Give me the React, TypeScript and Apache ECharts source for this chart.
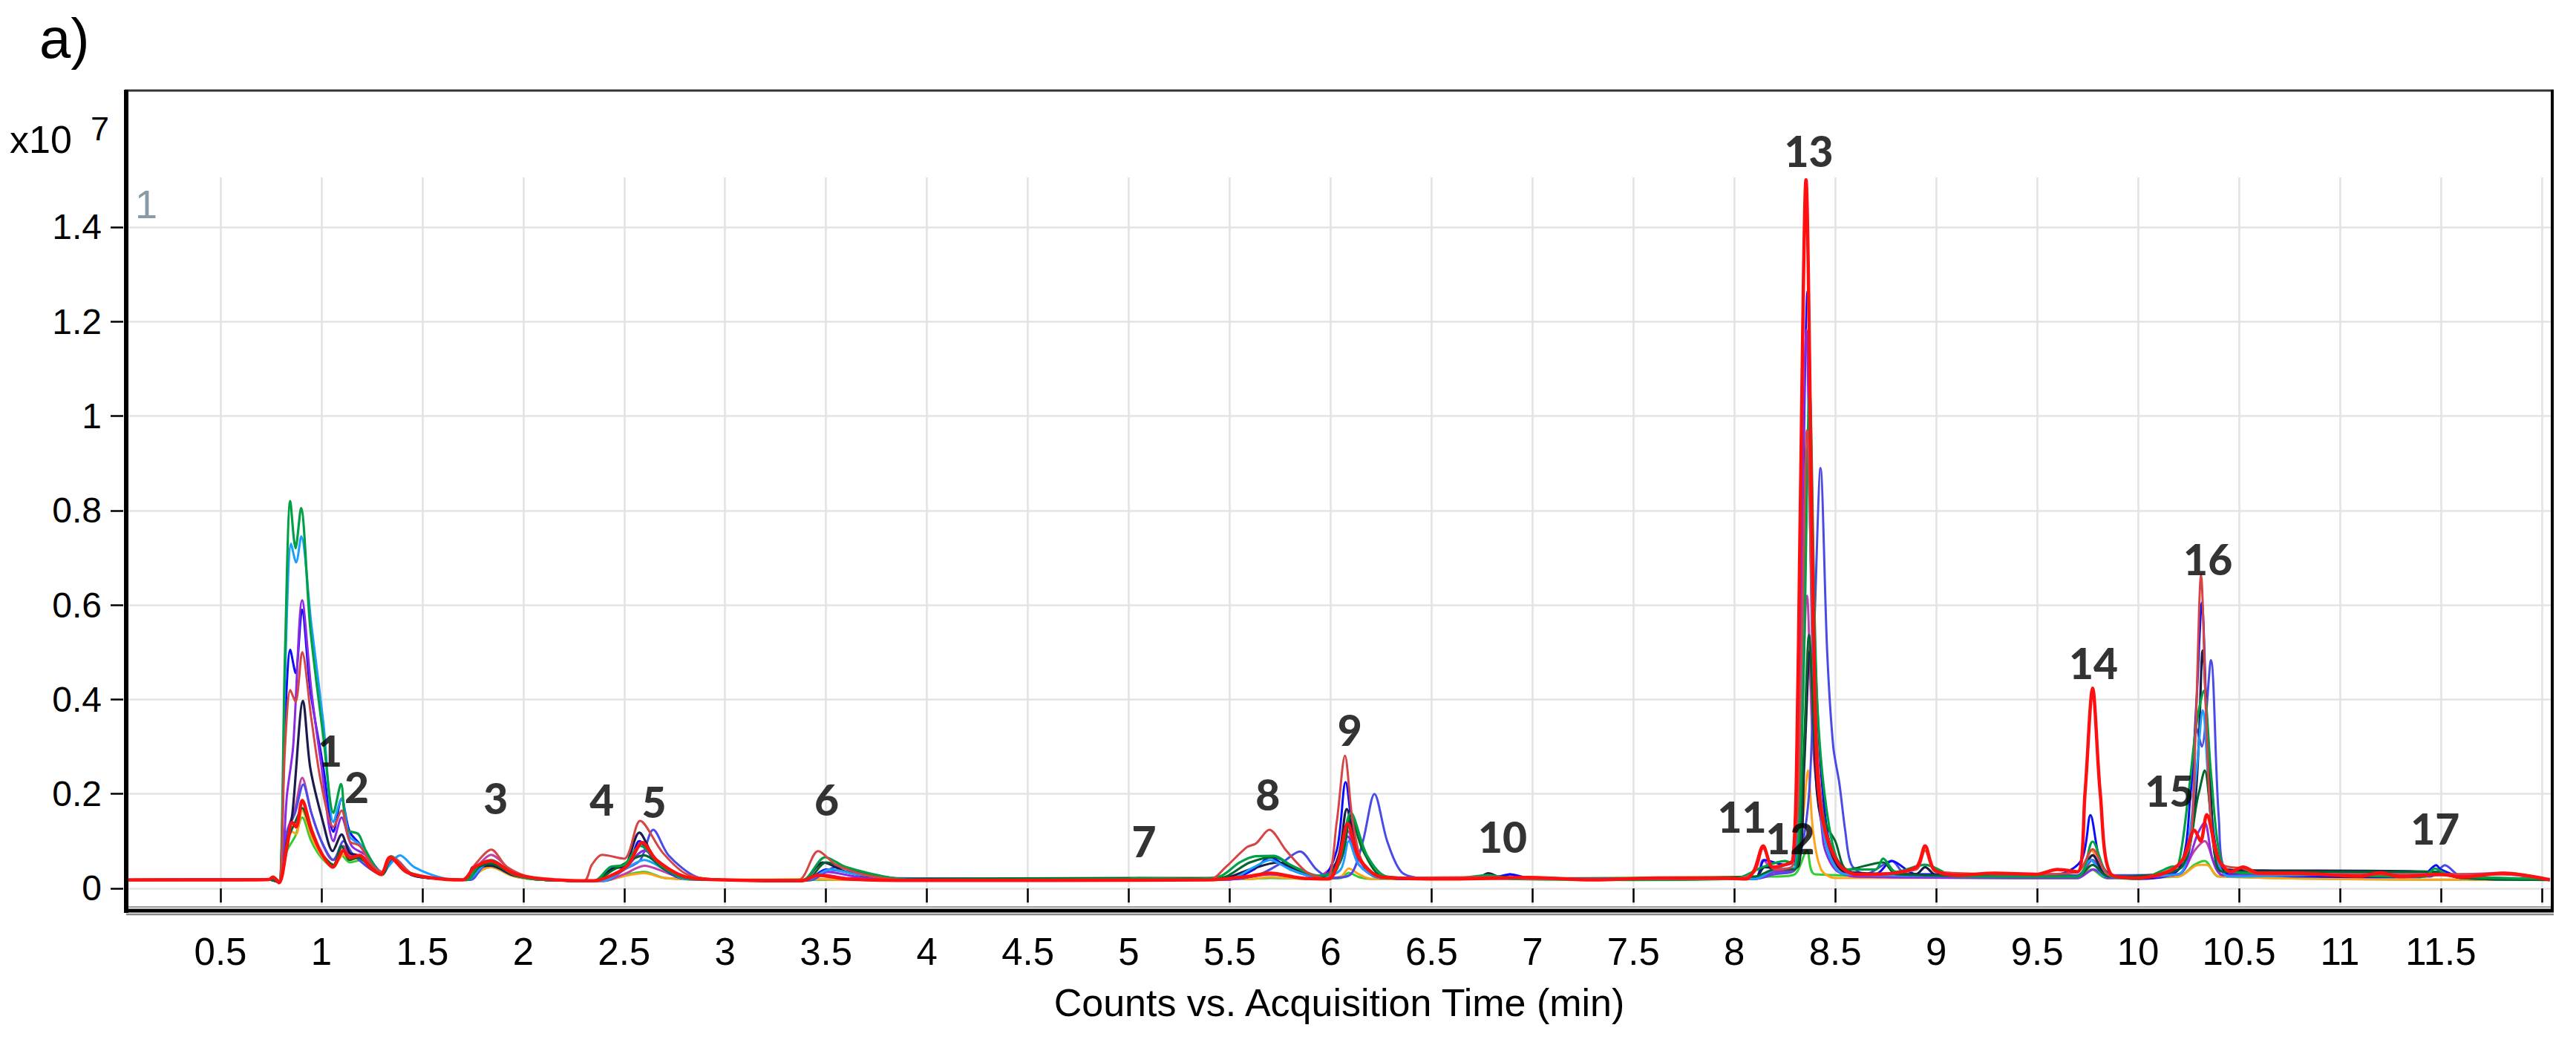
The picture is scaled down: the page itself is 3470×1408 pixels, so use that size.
import React, { useEffect, useRef } from 'react';
import * as echarts from 'echarts';

// ---------- axis values ----------
const X_TICKS = [0.5, 1, 1.5, 2, 2.5, 3, 3.5, 4, 4.5, 5, 5.5, 6, 6.5, 7, 7.5, 8, 8.5, 9, 9.5, 10, 10.5, 11, 11.5, 12];
const X_LABELS = [0.5, 1, 1.5, 2, 2.5, 3, 3.5, 4, 4.5, 5, 5.5, 6, 6.5, 7, 7.5, 8, 8.5, 9, 9.5, 10, 10.5, 11, 11.5];
const Y_TICKS = [0, 0.2, 0.4, 0.6, 0.8, 1, 1.2, 1.4];
const X_RANGE = [0.033, 12.052];
const Y_RANGE_FRAME = [-0.044, 1.689];
const Y_RANGE_PLOT = [-0.0346, 1.5053];

// ---------- peak labels ----------
const PEAK_NAMES = ['1', '2', '3', '4', '5', '6', '7', '8', '9', '10', '11', '12', '13', '14', '15', '16', '17'];
const PEAK_T = [1.043, 1.175, 1.864, 2.39, 2.648, 3.503, 5.075, 5.689, 6.095, 6.852, 8.038, 8.277, 8.369, 9.779, 10.155, 10.346, 11.472];
const PEAK_Y = [0.293, 0.215, 0.192, 0.189, 0.184, 0.189, 0.1, 0.2, 0.336, 0.11, 0.152, 0.107, 1.5625, 0.478, 0.208, 0.697, 0.1266];

// ---------- traces: [time (min), counts x10^7] ----------
const LIME = [[0.03,0.018],[0.74,0.019],[0.79,0.013],[0.83,0.08],[0.87,0.11],[0.905,0.15],[0.95,0.1],[1.0,0.065],[1.06,0.045],[1.1,0.07],[1.14,0.055],[1.2,0.06],[1.3,0.028],[1.35,0.06],[1.45,0.028],[1.6,0.02],[1.72,0.018],[1.8,0.04],[1.84,0.045],[1.95,0.026],[2.1,0.018],[2.4,0.016],[2.5,0.028],[2.6,0.035],[2.7,0.022],[3.0,0.018],[5.6,0.02],[5.7,0.022],[5.9,0.02],[6.05,0.022],[6.09,0.033],[6.14,0.024],[6.2,0.02],[8.2,0.025],[8.3,0.03],[8.36,0.08],[8.4,0.03],[9.7,0.022],[9.77,0.04],[9.84,0.022],[10.2,0.025],[10.28,0.05],[10.33,0.058],[10.4,0.025],[12.04,0.018]];

const ORANGE = [[0.03,0.018],[0.74,0.019],[0.79,0.013],[0.83,0.09],[0.855,0.12],[0.875,0.115],[0.905,0.165],[0.95,0.11],[1.0,0.07],[1.056,0.045],[1.11,0.072],[1.14,0.06],[1.19,0.065],[1.295,0.028],[1.34,0.062],[1.45,0.028],[1.6,0.02],[1.72,0.018],[1.8,0.04],[1.84,0.045],[1.95,0.026],[2.1,0.018],[2.4,0.016],[2.5,0.026],[2.6,0.032],[2.7,0.022],[3.0,0.018],[3.45,0.02],[3.6,0.018],[5.6,0.02],[5.7,0.024],[5.9,0.02],[6.05,0.025],[6.09,0.042],[6.14,0.03],[6.2,0.02],[8.1,0.02],[8.2,0.03],[8.3,0.04],[8.34,0.15],[8.365,0.25],[8.39,0.12],[8.43,0.04],[8.5,0.022],[9.7,0.025],[9.77,0.08],[9.84,0.025],[10.2,0.025],[10.3,0.05],[10.34,0.05],[10.4,0.025],[12.04,0.018]];

const MAGENTA = [[0.03,0.018],[0.74,0.019],[0.79,0.013],[0.83,0.12],[0.87,0.17],[0.905,0.234],[0.95,0.16],[1.0,0.1],[1.056,0.06],[1.11,0.09],[1.14,0.07],[1.19,0.07],[1.295,0.03],[1.34,0.064],[1.45,0.03],[1.6,0.02],[1.72,0.018],[1.78,0.05],[1.84,0.071],[1.95,0.035],[2.1,0.018],[2.4,0.016],[2.5,0.03],[2.6,0.048],[2.7,0.035],[2.8,0.02],[3.0,0.018],[3.4,0.017],[3.48,0.03],[3.6,0.022],[5.5,0.019],[5.7,0.03],[5.9,0.02],[6.04,0.06],[6.085,0.121],[6.14,0.06],[6.25,0.022],[8.1,0.02],[8.143,0.06],[8.2,0.035],[8.3,0.04],[8.33,0.3],[8.36,0.62],[8.39,0.3],[8.44,0.12],[8.5,0.05],[8.6,0.025],[9.7,0.022],[9.775,0.06],[9.85,0.022],[10.2,0.03],[10.28,0.08],[10.33,0.1],[10.38,0.05],[10.42,0.028],[11.2,0.028],[11.5,0.028],[11.81,0.033],[12.04,0.018]];

const ROYALBLUE = [[0.03,0.018],[0.74,0.019],[0.79,0.013],[0.83,0.12],[0.87,0.16],[0.91,0.22],[0.95,0.16],[1.0,0.1],[1.06,0.06],[1.11,0.1],[1.16,0.07],[1.3,0.03],[1.36,0.064],[1.45,0.03],[1.6,0.02],[1.74,0.018],[1.8,0.045],[1.86,0.05],[1.97,0.028],[2.1,0.018],[2.4,0.016],[2.5,0.04],[2.58,0.06],[2.644,0.124],[2.72,0.07],[2.855,0.025],[3.0,0.018],[3.42,0.017],[3.55,0.045],[3.7,0.03],[3.95,0.018],[5.5,0.019],[5.65,0.03],[5.76,0.055],[5.848,0.078],[5.93,0.04],[6.0,0.022],[6.1,0.03],[6.16,0.1],[6.217,0.2],[6.28,0.1],[6.35,0.035],[6.45,0.022],[6.85,0.024],[6.888,0.03],[6.95,0.022],[8.1,0.02],[8.2,0.03],[8.3,0.04],[8.37,0.2],[8.4,0.6],[8.427,0.89],[8.46,0.5],[8.49,0.3],[8.52,0.223],[8.55,0.12],[8.58,0.05],[8.65,0.03],[8.78,0.058],[8.85,0.03],[9.7,0.028],[9.77,0.06],[9.84,0.028],[10.2,0.03],[10.26,0.1],[10.29,0.34],[10.316,0.3],[10.361,0.483],[10.4,0.15],[10.44,0.04],[11.45,0.025],[11.52,0.049],[11.6,0.025],[12.04,0.018]];

const BLUE = [[0.03,0.018],[0.74,0.019],[0.76,0.023],[0.79,0.013],[0.82,0.35],[0.846,0.505],[0.872,0.456],[0.904,0.59],[0.945,0.42],[1.01,0.255],[1.06,0.12],[1.1,0.19],[1.14,0.12],[1.2,0.09],[1.3,0.035],[1.35,0.066],[1.44,0.03],[1.6,0.02],[1.72,0.018],[1.79,0.05],[1.84,0.055],[1.95,0.03],[2.1,0.018],[2.35,0.016],[2.45,0.045],[2.52,0.05],[2.575,0.1],[2.65,0.06],[2.78,0.022],[3.0,0.018],[3.4,0.017],[3.5,0.04],[3.6,0.035],[3.8,0.02],[4.4,0.017],[4.48,0.02],[4.6,0.017],[5.5,0.02],[5.62,0.04],[5.7,0.066],[5.8,0.04],[5.95,0.022],[6.03,0.08],[6.074,0.225],[6.12,0.1],[6.2,0.03],[6.4,0.02],[6.8,0.022],[6.888,0.03],[7.0,0.02],[8.1,0.02],[8.15,0.06],[8.25,0.05],[8.3,0.06],[8.33,0.6],[8.363,1.265],[8.4,0.5],[8.46,0.12],[8.55,0.04],[8.7,0.03],[8.78,0.058],[8.9,0.03],[9.6,0.03],[9.72,0.06],[9.764,0.155],[9.81,0.06],[9.86,0.03],[10.0,0.02],[10.2,0.04],[10.26,0.2],[10.29,0.4],[10.316,0.605],[10.345,0.3],[10.38,0.1],[10.45,0.03],[11.4,0.024],[11.477,0.049],[11.5,0.04],[11.6,0.025],[12.04,0.018]];

const NAVY = [[0.03,0.018],[0.74,0.019],[0.76,0.024],[0.79,0.013],[0.83,0.1],[0.856,0.157],[0.909,0.397],[0.945,0.255],[1.01,0.137],[1.056,0.079],[1.1,0.114],[1.14,0.075],[1.18,0.07],[1.295,0.03],[1.34,0.064],[1.45,0.028],[1.6,0.02],[1.72,0.018],[1.75,0.045],[1.84,0.048],[1.95,0.028],[2.1,0.018],[2.35,0.016],[2.45,0.043],[2.5,0.045],[2.575,0.118],[2.65,0.065],[2.78,0.025],[3.0,0.018],[3.38,0.016],[3.485,0.055],[3.6,0.035],[3.8,0.02],[5.45,0.02],[5.6,0.04],[5.74,0.055],[5.85,0.035],[5.97,0.02],[6.04,0.07],[6.08,0.168],[6.13,0.08],[6.22,0.025],[6.5,0.02],[6.72,0.02],[6.781,0.032],[6.85,0.022],[8.1,0.02],[8.15,0.045],[8.25,0.04],[8.32,0.05],[8.345,0.25],[8.375,0.504],[8.41,0.2],[8.46,0.1],[8.55,0.035],[8.9,0.03],[8.945,0.045],[9.0,0.028],[9.7,0.025],[9.775,0.07],[9.85,0.025],[10.2,0.04],[10.272,0.143],[10.3,0.3],[10.32,0.504],[10.36,0.2],[10.42,0.04],[11.47,0.035],[11.6,0.022],[12.04,0.018]];

const PURPLE = [[0.03,0.018],[0.74,0.019],[0.79,0.013],[0.83,0.2],[0.86,0.3],[0.905,0.61],[0.95,0.42],[1.0,0.26],[1.06,0.1],[1.1,0.15],[1.15,0.09],[1.22,0.07],[1.3,0.03],[1.35,0.062],[1.45,0.03],[1.6,0.02],[1.72,0.018],[1.8,0.05],[1.84,0.058],[1.95,0.03],[2.1,0.018],[2.4,0.016],[2.5,0.04],[2.6,0.08],[2.7,0.045],[2.8,0.022],[3.0,0.018],[3.4,0.017],[3.5,0.035],[3.7,0.022],[5.5,0.019],[5.7,0.03],[5.9,0.02],[6.04,0.05],[6.085,0.11],[6.14,0.05],[6.25,0.022],[8.1,0.02],[8.2,0.035],[8.3,0.04],[8.325,0.5],[8.357,1.182],[8.39,0.45],[8.44,0.1],[8.5,0.04],[8.6,0.025],[9.7,0.022],[9.78,0.04],[9.85,0.022],[10.2,0.03],[10.3,0.12],[10.33,0.14],[10.37,0.06],[10.42,0.028],[11.5,0.03],[11.81,0.03],[12.04,0.018]];

const SKYBLUE = [[0.03,0.018],[0.74,0.019],[0.79,0.013],[0.82,0.45],[0.85,0.73],[0.875,0.69],[0.9,0.745],[0.95,0.56],[1.01,0.35],[1.06,0.14],[1.1,0.19],[1.14,0.11],[1.2,0.09],[1.3,0.035],[1.39,0.07],[1.46,0.045],[1.6,0.022],[1.72,0.018],[1.8,0.048],[1.84,0.055],[1.95,0.03],[2.1,0.018],[2.4,0.016],[2.5,0.04],[2.6,0.06],[2.7,0.04],[2.8,0.02],[3.0,0.018],[3.4,0.017],[3.52,0.04],[3.65,0.03],[3.9,0.02],[4.4,0.017],[4.5,0.02],[4.6,0.017],[5.5,0.02],[5.62,0.045],[5.7,0.06],[5.8,0.04],[5.95,0.022],[6.05,0.04],[6.09,0.1],[6.14,0.05],[6.25,0.022],[8.1,0.02],[8.2,0.04],[8.3,0.045],[8.33,0.4],[8.362,0.93],[8.4,0.35],[8.45,0.1],[8.55,0.03],[9.7,0.025],[9.765,0.06],[9.84,0.025],[10.2,0.03],[10.25,0.1],[10.29,0.25],[10.32,0.377],[10.36,0.15],[10.4,0.05],[10.45,0.025],[11.47,0.035],[11.6,0.022],[12.04,0.018]];

const DARKGREEN = [[0.03,0.018],[0.74,0.019],[0.79,0.013],[0.83,0.1],[0.87,0.14],[0.905,0.17],[0.95,0.12],[1.0,0.075],[1.06,0.05],[1.1,0.09],[1.14,0.06],[1.18,0.065],[1.3,0.03],[1.35,0.064],[1.45,0.03],[1.6,0.02],[1.72,0.018],[1.78,0.045],[1.84,0.052],[1.95,0.03],[2.1,0.018],[2.35,0.016],[2.45,0.04],[2.6,0.07],[2.7,0.04],[2.8,0.022],[3.0,0.018],[3.4,0.017],[3.5,0.055],[3.62,0.04],[3.85,0.02],[5.0,0.022],[5.45,0.022],[5.6,0.055],[5.72,0.066],[5.82,0.045],[5.95,0.024],[6.05,0.06],[6.1,0.15],[6.16,0.08],[6.26,0.025],[6.6,0.02],[6.8,0.026],[7.0,0.02],[8.1,0.025],[8.2,0.04],[8.3,0.04],[8.34,0.25],[8.37,0.537],[8.4,0.3],[8.45,0.14],[8.5,0.1],[8.56,0.04],[8.737,0.055],[8.8,0.03],[9.7,0.025],[9.775,0.05],[9.85,0.025],[10.2,0.04],[10.3,0.2],[10.33,0.25],[10.37,0.12],[10.42,0.035],[11.47,0.035],[11.6,0.022],[12.04,0.018]];

const GREEN = [[0.03,0.018],[0.5,0.018],[0.74,0.019],[0.76,0.024],[0.79,0.015],[0.82,0.5],[0.846,0.82],[0.872,0.72],[0.899,0.805],[0.945,0.55],[1.01,0.32],[1.06,0.16],[1.097,0.221],[1.126,0.125],[1.183,0.115],[1.22,0.08],[1.297,0.033],[1.346,0.068],[1.44,0.033],[1.6,0.02],[1.72,0.018],[1.78,0.05],[1.84,0.06],[1.95,0.03],[2.1,0.018],[2.35,0.016],[2.43,0.045],[2.5,0.05],[2.58,0.09],[2.68,0.05],[2.8,0.022],[3.0,0.018],[3.38,0.017],[3.496,0.066],[3.6,0.045],[3.83,0.022],[4.0,0.018],[5.0,0.02],[5.05,0.022],[5.3,0.02],[5.45,0.025],[5.55,0.055],[5.63,0.068],[5.72,0.069],[5.8,0.05],[5.94,0.027],[6.03,0.04],[6.1,0.16],[6.18,0.07],[6.28,0.025],[6.6,0.02],[6.78,0.028],[6.9,0.02],[7.5,0.018],[8.0,0.02],[8.14,0.045],[8.25,0.058],[8.3,0.05],[8.34,0.4],[8.373,1.05],[8.41,0.4],[8.47,0.13],[8.55,0.04],[8.7,0.04],[8.737,0.063],[8.8,0.035],[8.945,0.05],[9.1,0.025],[9.7,0.025],[9.775,0.099],[9.85,0.03],[10.0,0.02],[10.16,0.045],[10.2,0.05],[10.25,0.2],[10.29,0.35],[10.325,0.418],[10.36,0.25],[10.4,0.08],[10.45,0.035],[10.8,0.03],[11.42,0.025],[11.47,0.042],[11.53,0.03],[11.6,0.025],[12.04,0.02]];

const INDIANRED = [[0.03,0.018],[0.5,0.018],[0.74,0.019],[0.76,0.024],[0.79,0.013],[0.82,0.3],[0.846,0.42],[0.872,0.395],[0.905,0.5],[0.95,0.36],[1.0,0.22],[1.06,0.13],[1.1,0.165],[1.14,0.1],[1.19,0.09],[1.25,0.05],[1.3,0.035],[1.35,0.066],[1.45,0.03],[1.6,0.02],[1.7,0.018],[1.76,0.05],[1.842,0.082],[1.92,0.045],[2.05,0.022],[2.3,0.016],[2.34,0.05],[2.39,0.071],[2.5,0.063],[2.579,0.143],[2.69,0.076],[2.81,0.03],[3.0,0.018],[3.36,0.017],[3.461,0.079],[3.55,0.05],[3.7,0.028],[3.9,0.018],[4.6,0.017],[5.4,0.018],[5.48,0.045],[5.584,0.087],[5.63,0.095],[5.696,0.124],[5.78,0.08],[5.88,0.035],[5.98,0.02],[6.03,0.14],[6.071,0.281],[6.11,0.14],[6.17,0.045],[6.3,0.022],[6.78,0.024],[7.0,0.02],[8.0,0.02],[8.1,0.035],[8.143,0.085],[8.2,0.04],[8.29,0.05],[8.33,0.45],[8.36,0.97],[8.395,0.45],[8.44,0.15],[8.52,0.05],[8.6,0.03],[8.9,0.04],[8.945,0.08],[9.0,0.035],[9.5,0.03],[9.7,0.035],[9.775,0.083],[9.85,0.03],[10.0,0.022],[10.2,0.05],[10.26,0.1],[10.285,0.33],[10.312,0.664],[10.34,0.33],[10.37,0.1],[10.42,0.05],[10.52,0.042],[10.6,0.03],[11.2,0.03],[11.81,0.03],[12.04,0.018]];

const RED = [[0.03,0.018],[0.5,0.018],[0.74,0.019],[0.76,0.024],[0.79,0.012],[0.83,0.09],[0.855,0.14],[0.875,0.13],[0.905,0.186],[0.95,0.125],[1.0,0.075],[1.056,0.045],[1.11,0.08],[1.14,0.065],[1.19,0.07],[1.24,0.045],[1.295,0.03],[1.34,0.066],[1.42,0.035],[1.55,0.022],[1.7,0.018],[1.76,0.045],[1.84,0.058],[1.95,0.032],[2.1,0.02],[2.35,0.016],[2.45,0.03],[2.52,0.05],[2.59,0.097],[2.66,0.06],[2.8,0.025],[3.0,0.018],[3.38,0.016],[3.46,0.028],[3.6,0.02],[3.9,0.017],[4.6,0.017],[5.4,0.018],[5.6,0.026],[5.7,0.032],[5.85,0.022],[5.99,0.02],[6.04,0.06],[6.085,0.137],[6.14,0.065],[6.25,0.024],[6.6,0.02],[6.98,0.023],[7.3,0.018],[7.62,0.022],[7.95,0.022],[8.06,0.02],[8.1,0.04],[8.143,0.09],[8.19,0.045],[8.25,0.05],[8.29,0.06],[8.31,0.3],[8.325,0.75],[8.355,1.5],[8.385,0.75],[8.41,0.25],[8.45,0.12],[8.52,0.05],[8.6,0.03],[8.7,0.03],[8.9,0.045],[8.945,0.09],[8.99,0.04],[9.1,0.028],[9.29,0.032],[9.5,0.03],[9.6,0.04],[9.7,0.035],[9.737,0.2],[9.775,0.424],[9.813,0.2],[9.866,0.03],[10.0,0.022],[10.15,0.035],[10.22,0.06],[10.28,0.123],[10.31,0.1],[10.34,0.156],[10.4,0.06],[10.46,0.035],[10.52,0.045],[10.6,0.032],[10.77,0.032],[11.1,0.026],[11.2,0.033],[11.3,0.025],[11.5,0.03],[11.6,0.024],[11.81,0.032],[12.04,0.018]];

// drawing order: first is drawn at the bottom
const TRACES = [
  { name: 'lime', data: LIME, color: '#33cc33', width: 3 },
  { name: 'orange', data: ORANGE, color: '#ffa31a', width: 3 },
  { name: 'magenta', data: MAGENTA, color: '#c040a8', width: 3 },
  { name: 'royalblue', data: ROYALBLUE, color: '#4a4ae6', width: 3 },
  { name: 'blue', data: BLUE, color: '#0a0aff', width: 3 },
  { name: 'navy', data: NAVY, color: '#1c1c4a', width: 3.2 },
  { name: 'purple', data: PURPLE, color: '#8a2be2', width: 3 },
  { name: 'skyblue', data: SKYBLUE, color: '#1a9fff', width: 3 },
  { name: 'darkgreen', data: DARKGREEN, color: '#00662a', width: 3 },
  { name: 'green', data: GREEN, color: '#00a045', width: 3.2 },
  { name: 'indianred', data: INDIANRED, color: '#d64545', width: 3 },
  { name: 'red', data: RED, color: '#ff1010', width: 4.5 },
];

const FONT = 'Liberation Sans, Arial, sans-serif';

export default function App() {
  const ref = useRef<HTMLDivElement | null>(null);

  useEffect(() => {
    if (!ref.current) return;
    const chart = echarts.init(ref.current, undefined, { renderer: 'svg' });

    const lineSeries = TRACES.map((t) => ({
      type: 'line',
      name: t.name,
      xAxisIndex: 1,
      yAxisIndex: 1,
      data: t.data,
      showSymbol: false,
      symbol: 'none',
      smooth: 0.3,
      silent: true,
      lineStyle: { color: t.color, width: t.width },
      emphasis: { disabled: true },
    }));

    const labelSeries = {
      type: 'scatter',
      xAxisIndex: 0,
      yAxisIndex: 0,
      symbol: 'circle',
      symbolSize: 2,
      itemStyle: { color: 'rgba(0,0,0,0)' },
      silent: true,
      clip: false,
      z: 20,
      data: PEAK_NAMES.map((n, i) => ({ name: n, value: [PEAK_T[i], PEAK_Y[i]] })),
      label: {
        show: true,
        position: 'inside',
        formatter: '{b}',
        fontFamily: 'Lato, Open Sans, sans-serif',
        fontWeight: 900,
        fontSize: 57,
        color: '#000',
      },
      labelLayout: { hideOverlap: false },
    };

    const option = {
      animation: false,
      backgroundColor: '#ffffff',
      grid: [
        { left: 170, top: 122, right: 32, bottom: 183 },
        { left: 170, top: 239, right: 32, bottom: 189 },
      ],
      xAxis: [
        {
          gridIndex: 0,
          type: 'value',
          min: X_RANGE[0],
          max: X_RANGE[1],
          offset: 7,
          axisLine: { show: false },
          axisTick: { show: true, length: 19, customValues: X_TICKS, lineStyle: { color: '#000', width: 2.5 } },
          axisLabel: { show: true, customValues: X_LABELS, margin: 25, fontSize: 51, color: '#000', fontFamily: FONT },
          splitLine: { show: false },
          name: 'Counts vs. Acquisition Time (min)',
          nameLocation: 'middle',
          nameGap: 93,
          nameTextStyle: { fontSize: 52, color: '#000', fontFamily: FONT },
        },
        {
          gridIndex: 1,
          type: 'value',
          min: X_RANGE[0],
          max: X_RANGE[1],
          axisLine: { show: false },
          axisTick: { show: false, customValues: X_TICKS },
          axisLabel: { show: false },
          splitLine: { show: true, lineStyle: { color: '#e3e3e3', width: 2.6 } },
        },
      ],
      yAxis: [
        {
          gridIndex: 0,
          type: 'value',
          min: Y_RANGE_FRAME[0],
          max: Y_RANGE_FRAME[1],
          offset: 4,
          axisLine: { show: false },
          axisTick: { show: true, length: 17, customValues: Y_TICKS, lineStyle: { color: '#000', width: 2.5 } },
          axisLabel: { show: true, customValues: Y_TICKS, margin: 29, fontSize: 48, color: '#000', fontFamily: FONT },
          splitLine: { show: false },
        },
        {
          gridIndex: 1,
          type: 'value',
          min: Y_RANGE_PLOT[0],
          max: Y_RANGE_PLOT[1],
          axisLine: { show: false },
          axisTick: { show: false, customValues: Y_TICKS },
          axisLabel: { show: false },
          splitLine: { show: true, lineStyle: { color: '#e3e3e3', width: 2.6 } },
        },
      ],
      graphic: [
        { type: 'text', x: 53, y: 51, style: { text: 'a)', fontSize: 76, fontFamily: FONT, fill: '#000', verticalAlign: 'middle' } },
        { type: 'text', x: 13, y: 188, style: { text: 'x10', fontSize: 52, fontFamily: FONT, fill: '#000', verticalAlign: 'middle' } },
        { type: 'text', x: 122, y: 173, style: { text: '7', fontSize: 45, fontFamily: FONT, fill: '#000', verticalAlign: 'middle' } },
        { type: 'text', x: 182, y: 275, style: { text: '1', fontSize: 54, fontFamily: FONT, fill: '#8a9ba8', verticalAlign: 'middle' } },
        { type: 'line', z: 100, shape: { x1: 168, y1: 122, x2: 3440, y2: 122 }, style: { stroke: '#333', lineWidth: 3 } },
        { type: 'line', z: 100, shape: { x1: 3438, y1: 121, x2: 3438, y2: 1229 }, style: { stroke: '#000', lineWidth: 4 } },
        { type: 'line', z: 100, shape: { x1: 170, y1: 121, x2: 170, y2: 1230 }, style: { stroke: '#000', lineWidth: 6 } },
        { type: 'line', z: 100, shape: { x1: 173, y1: 1222, x2: 3436, y2: 1222 }, style: { stroke: '#9a9a9a', lineWidth: 2 } },
        { type: 'line', z: 100, shape: { x1: 167, y1: 1227, x2: 3440, y2: 1227 }, style: { stroke: '#000', lineWidth: 5 } },
        { type: 'line', z: 100, shape: { x1: 170, y1: 1232, x2: 3440, y2: 1232 }, style: { stroke: '#8a8a8a', lineWidth: 2.5 } },
      ],
      series: [...lineSeries, labelSeries],
    };

    chart.setOption(option as any);
    return () => chart.dispose();
  }, []);

  return (
    <div
      ref={ref}
      style={{ position: 'absolute', left: 0, top: 0, width: 3470, height: 1408, background: '#fff' }}
    />
  );
}
